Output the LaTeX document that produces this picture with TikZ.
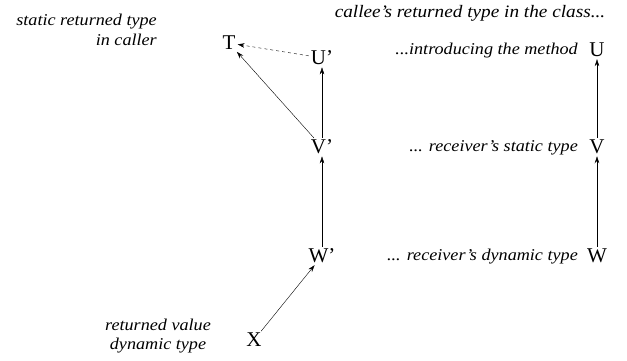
\documentclass[tikz,border=0pt]{standalone}
\usepackage{fontspec}
\setmainfont{Liberation Serif}
\newfontfamily\labfont{Liberation Serif Italic}[Ligatures=TeX,FakeStretch=1.1]
\usetikzlibrary{arrows.meta}
\begin{document}
\begin{tikzpicture}[x=1pt,y=-1pt,
  tnode/.style={font=\fontsize{21}{21}\selectfont, inner sep=1pt},
  lab/.style={font=\fontsize{16.5}{19.5}\labfont, inner sep=0pt, align=right},
  arr/.style={-{Stealth[length=7pt,width=4.5pt]}, thin, shorten >=1pt, shorten <=1pt}]
\useasboundingbox (0,0) rectangle (627,360);
\node[tnode] (T) at (229,43) {T};
\node[tnode] (Up) at (322,58) {U'};
\node[tnode] (Vp) at (322,147) {V'};
\node[tnode] (Wp) at (322,256) {W'};
\node[tnode] (X) at (254,340) {X};
\node[tnode] (U) at (597,50) {U};
\node[tnode] (V) at (597,147) {V};
\node[tnode] (W) at (597,256) {W};
\node[lab, anchor=east] (l1) at (157,30) {static returned type\\in caller};
\node[lab, anchor=center] (l2) at (470,13) {\fontsize{17.5}{19.5}\selectfont callee's returned type in the class...};
\node[lab, anchor=east] (l3) at (578,51) {...introducing the method};
\node[lab, anchor=east] (l4) at (578,148) {... receiver's static type};
\node[lab, anchor=east] (l5) at (578,257) {... receiver's dynamic type};
\node[lab, align=center] (l6) at (158,336) {returned value\\dynamic type};
\draw[arr] (Vp) -- (T);
\draw[arr, dashed] (Up) -- (T);
\draw[arr] (Vp) -- (Up);
\draw[arr] (Wp) -- (Vp);
\draw[arr] (X) -- (Wp);
\draw[arr] (V) -- (U);
\draw[arr] (W) -- (V);
\end{tikzpicture}
\end{document}
